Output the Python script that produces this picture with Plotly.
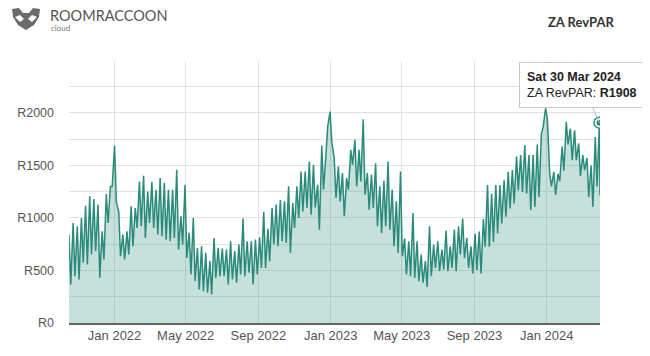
import pandas as pd
import plotly.graph_objects as go

# ---- data ----
start_date = "2021-10-16"
start_value = 840
end_date = "2024-03-31"
end_value = 1217

# week-ending Saturdays (peak days); mid-week low sits on the Tuesday before
week_saturdays = pd.date_range("2021-10-23", "2024-03-30", freq="7D")

trough_vals = [
    367, 446, 415, 573, 557, 652, 684, 430, 605, 953,
    1300, 1150, 636, 605, 652, 731, 905, 921, 810, 953,
    905, 842, 826, 794, 779, 810, 700, 747, 620, 462,
    399, 320, 304, 288, 272, 430, 446, 446, 367, 415,
    383, 462, 446, 478, 367, 462, 525, 525, 589, 747,
    731, 779, 763, 668, 905, 1000, 1063, 1095, 1032, 1100,
    889, 1269, 1870, 1720, 1190, 1158, 1016, 1269, 1507, 1301,
    1348, 1222, 1079, 1095, 921, 858, 921, 889, 731, 668,
    636, 462, 446, 430, 399, 383, 342, 446, 525, 494,
    510, 494, 525, 494, 652, 620, 525, 472, 504, 472,
    726, 726, 773, 853, 948, 1011, 1090, 1138, 1265, 1249,
    1233, 1075, 1106, 1200, 1867, 1950, 1300, 1220, 1350, 1450,
    1700, 1550, 1550, 1400, 1455, 1200, 1106, 1300,
]
peak_vals = [
    953, 921, 1000, 1117, 1206, 1180, 1127, 873, 1228, 1300,
    1690, 1060, 842, 873, 1111, 1095, 1348, 1402, 1253, 1342,
    1269, 1380, 1332, 1269, 1269, 1459, 1016, 1317, 858, 1000,
    715, 731, 668, 589, 810, 715, 709, 700, 779, 684,
    747, 994, 779, 779, 794, 817, 1057, 896, 1095, 1127,
    1171, 1158, 1301, 1143, 1301, 1443, 1443, 1538, 1507, 1317,
    1690, 1601, 2013, 1570, 1491, 1427, 1380, 1649, 1744, 1649,
    1940, 1427, 1412, 1522, 1301, 1355, 1538, 1269, 1158, 1443,
    804, 779, 1048, 779, 652, 589, 921, 747, 779, 700,
    880, 731, 889, 921, 994, 810, 731, 853, 870, 990,
    1314, 1230, 1314, 1314, 1360, 1441, 1457, 1584, 1600, 1695,
    1600, 1600, 1700, 1800, 2044, 1430, 1440, 1420, 1680, 1915,
    1850, 1835, 1710, 1600, 1570, 1500, 1772, 1908,
]

x_tick_vals = ["2022-01-01", "2022-05-01", "2022-09-01", "2023-01-01",
               "2023-05-01", "2023-09-01", "2024-01-01"]
x_tick_text = ["Jan 2022", "May 2022", "Sep 2022", "Jan 2023",
               "May 2023", "Sep 2023", "Jan 2024"]
y_tick_vals = [0, 250, 500, 750, 1000, 1250, 1500, 1750, 2000, 2250]
y_tick_text = ["R0", "", "R500", "", "R1000", "", "R1500", "", "R2000", ""]

series_name = "ZA RevPAR"
hover_label = "Sat 30 Mar 2024"
hover_value = 1908

# ---- build series ----
xs = [pd.Timestamp(start_date)]
ys = [start_value]
for d, lo, hi in zip(week_saturdays, trough_vals, peak_vals):
    xs.append(d - pd.Timedelta(days=4))
    ys.append(lo)
    xs.append(d)
    ys.append(hi)
xs.append(pd.Timestamp(end_date))
ys.append(end_value)

LINE = "#2b8b7b"
FILL = "rgba(43,139,123,0.27)"

fig = go.Figure()
fig.add_trace(go.Scatter(
    x=xs, y=ys, mode="lines", name=series_name,
    line=dict(color=LINE, width=1.5),
    fill="tozeroy", fillcolor=FILL, hoverinfo="skip",
))
fig.add_trace(go.Scatter(
    x=[week_saturdays[-1]], y=[peak_vals[-1]], mode="markers",
    marker=dict(size=11, color="white", line=dict(color=LINE, width=1.5)),
    hoverinfo="skip",
))
fig.add_trace(go.Scatter(
    x=[week_saturdays[-1]], y=[peak_vals[-1]], mode="markers",
    marker=dict(size=6, color=LINE),
    hoverinfo="skip",
))

# page body has an 8px margin: the figure starts at (8, 8) on screen
OFF = 8
W, H = 650 - OFF, 356 - OFF
# desired screen plot box: x 69..600, y 61..323
ML, MR = 69 - OFF, 650 - 600
MT, MB = 61 - OFF, 356 - 323


def px(sx, sy):
    x = sx - OFF
    y = sy - OFF
    return ((x - ML) / (W - ML - MR), (H - MB - y) / (H - MT - MB))


def path(points):
    parts = []
    for i, (x, y) in enumerate(points):
        a, b = px(x, y)
        parts.append(("M" if i == 0 else "L") + f"{a:.4f},{b:.4f}")
    return " ".join(parts) + " Z"


# raccoon head icon (simplified)
head = [(12, 9), (19, 8), (23, 13), (29, 13), (33, 8), (40, 9), (39, 17),
        (34, 25), (26, 30), (18, 25), (13, 17)]
eye_l = [(15, 17), (20, 15), (24, 19), (20, 22)]
eye_r = [(37, 17), (32, 15), (28, 19), (32, 22)]
shapes = [
    dict(type="path", xref="paper", yref="paper", path=path(head),
         fillcolor="#6b6b6b", line=dict(width=0)),
    dict(type="path", xref="paper", yref="paper", path=path(eye_l),
         fillcolor="white", line=dict(width=0)),
    dict(type="path", xref="paper", yref="paper", path=path(eye_r),
         fillcolor="white", line=dict(width=0)),
]

annotations = [
    dict(xref="paper", yref="paper", x=px(48, 0)[0], y=px(0, 15)[1],
         text="ROOMRACCOON", showarrow=False, xanchor="left", yanchor="middle",
         font=dict(family="Lato", size=14.5, color="#555555")),
    dict(xref="paper", yref="paper", x=px(49, 0)[0], y=px(0, 28)[1],
         text="cloud", showarrow=False, xanchor="left", yanchor="middle",
         font=dict(family="Lato", size=8, color="#777777")),
    dict(xref="paper", yref="paper", x=px(581, 0)[0], y=px(0, 22)[1],
         text="<b>ZA RevPAR</b>", showarrow=False, xanchor="center", yanchor="middle",
         font=dict(family="Lato", size=13, color="#333333")),
    dict(x=week_saturdays[-1], y=peak_vals[-1], xref="x", yref="y",
         text=f"<b>{hover_label}</b><br>{series_name}: <b>R{hover_value}</b>",
         showarrow=True, arrowhead=0, arrowwidth=1, arrowcolor="#bbbbbb",
         ax=-17, ay=-38, align="left",
         bgcolor="white", bordercolor="#c8c8c8", borderwidth=1, borderpad=7,
         font=dict(family="Liberation Sans, Arial", size=12.5, color="#222222")),
]

fig.update_layout(
    width=W, height=H,
    margin=dict(l=ML, r=MR, t=MT, b=MB, autoexpand=False),
    paper_bgcolor="white", plot_bgcolor="white",
    showlegend=False,
    shapes=shapes,
    annotations=annotations,
    font=dict(family="Liberation Sans, Arial", size=12, color="#555555"),
    xaxis=dict(
        type="date", range=[start_date, end_date],
        tickvals=x_tick_vals, ticktext=x_tick_text,
        showgrid=True, gridcolor="#e2e2e2", gridwidth=1,
        showline=True, linecolor="#666666", linewidth=1.5,
        ticks="", zeroline=False, automargin=False,
        tickfont=dict(size=13, color="#555555"),
    ),
    yaxis=dict(
        range=[0, 2495],
        tickvals=y_tick_vals, ticktext=y_tick_text,
        showgrid=True, gridcolor="#e2e2e2", gridwidth=1,
        showline=False, ticks="", zeroline=False, automargin=False,
        ticklabelstandoff=14,
        tickfont=dict(size=12.5, color="#555555"),
    ),
)

fig.write_html("out.html")
